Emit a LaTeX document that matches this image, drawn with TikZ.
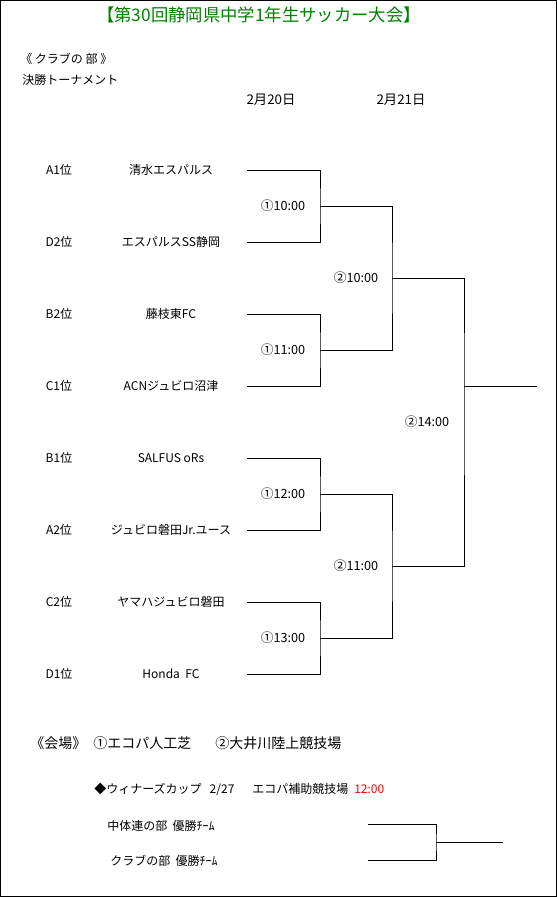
\documentclass[tikz,border=0pt]{standalone}
\usepackage{fontspec}
\setmainfont{Noto Sans CJK JP}
\definecolor{cupgreen}{RGB}{0,128,0}
\definecolor{cupred}{RGB}{255,0,0}
\tikzset{
  seed/.style={font=\fontsize{9}{11}\selectfont},
  team/.style={font=\fontsize{9}{11}\selectfont},
  kickoff/.style={font=\fontsize{9.5}{11}\selectfont},
  matchday/.style={font=\fontsize{10}{12}\selectfont},
  note/.style={font=\fontsize{9}{11}\selectfont, anchor=west, inner sep=0pt},
  venue/.style={font=\fontsize{10.5}{12}\selectfont, anchor=west, inner sep=0pt},
  bracket/.style={line width=0.75pt},
}
\begin{document}
\begin{tikzpicture}[x=0.75pt, y=-0.75pt]
    \useasboundingbox (0,0) rectangle (557,897);
    \draw[line width=0.75pt] (0.5,0.5) rectangle (556,896);

    % --- Heading ---
    \node[text=cupgreen, font=\fontsize{13}{15}\selectfont] (title) at (259,15) {【第30回静岡県中学1年生サッカー大会】};
    \node[note] (division) at (20,59) {《 クラブの 部 》};
    \node[note] (stage) at (22,80) {決勝トーナメント};
    \node[matchday] (date1) at (271,100) {2月20日};
    \node[matchday] (date2) at (401,100) {2月21日};

    % --- Seeds and teams ---
    \node[seed] (s1) at (59,170) {A1位};
    \node[team] (n1) at (171,170) {清水エスパルス};
    \node[seed] (s2) at (59,242) {D2位};
    \node[team] (n2) at (171,242) {エスパルスSS静岡};
    \node[seed] (s3) at (59,314) {B2位};
    \node[team] (n3) at (171,314) {藤枝東FC};
    \node[seed] (s4) at (59,386) {C1位};
    \node[team] (n4) at (171,386) {ACNジュビロ沼津};
    \node[seed] (s5) at (59,458) {B1位};
    \node[team] (n5) at (171,458) {SALFUS oRs};
    \node[seed] (s6) at (59,530) {A2位};
    \node[team] (n6) at (171,530) {ジュビロ磐田Jr.ユース};
    \node[seed] (s7) at (59,602) {C2位};
    \node[team] (n7) at (171,602) {ヤマハジュビロ磐田};
    \node[seed] (s8) at (59,674) {D1位};
    \node[team] (n8) at (171,674) {Honda\ \ FC};

    % --- Bracket joints ---
    \coordinate (t1) at (247,170);
    \coordinate (t2) at (247,242);
    \coordinate (t3) at (247,314);
    \coordinate (t4) at (247,386);
    \coordinate (t5) at (247,458);
    \coordinate (t6) at (247,530);
    \coordinate (t7) at (247,602);
    \coordinate (t8) at (247,674);
    \coordinate (g1) at (320,206);
    \coordinate (g2) at (320,350);
    \coordinate (g3) at (320,494);
    \coordinate (g4) at (320,638);
    \coordinate (h1) at (392,278);
    \coordinate (h2) at (392,566);
    \coordinate (fin) at (464,386);
    \coordinate (champ) at (537,386);

    \draw[bracket] (t1) -| (g1) |- (t2);
    \draw[bracket] (t3) -| (g2) |- (t4);
    \draw[bracket] (t5) -| (g3) |- (t6);
    \draw[bracket] (t7) -| (g4) |- (t8);
    \draw[bracket] (g1) -| (h1) |- (g2);
    \draw[bracket] (g3) -| (h2) |- (g4);
    \draw[bracket] (h1) -| (fin) |- (h2);
    \draw[bracket] (fin) -- (champ);

    % --- Kick-off times ---
    \node[kickoff] (k1) at (283,206) {①10:00};
    \node[kickoff] (k2) at (283,350) {①11:00};
    \node[kickoff] (k3) at (283,494) {①12:00};
    \node[kickoff] (k4) at (283,638) {①13:00};
    \node[kickoff] (k5) at (356,278) {②10:00};
    \node[kickoff] (k6) at (356,566) {②11:00};
    \node[kickoff] (k7) at (427,422) {②14:00};

    % --- Venues ---
    \node[venue] (v0) at (30,743) {《会場》};
    \node[venue] (v1) at (93,743) {①エコパ人工芝};
    \node[venue] (v2) at (215,743) {②大井川陸上競技場};

    % --- Winners cup ---
    \node[note] (cup) at (94,789) {◆ウィナーズカップ\ \ \ 2/27};
    \node[note] (cupvenue) at (252,789) {エコパ補助競技場};
    \node[note, text=cupred] (cuptime) at (354,789) {12:00};
    \node[note] (w1name) at (107,826) {中体連の部\ \ 優勝ﾁｰﾑ};
    \node[note] (w2name) at (110,861) {クラブの部\ \ 優勝ﾁｰﾑ};

    \coordinate (w1) at (368,824);
    \coordinate (w2) at (368,860);
    \coordinate (wj) at (436,842);
    \coordinate (wend) at (503,842);
    \draw[bracket] (w1) -| (wj) |- (w2);
    \draw[bracket] (wj) -- (wend);
\end{tikzpicture}
\end{document}
